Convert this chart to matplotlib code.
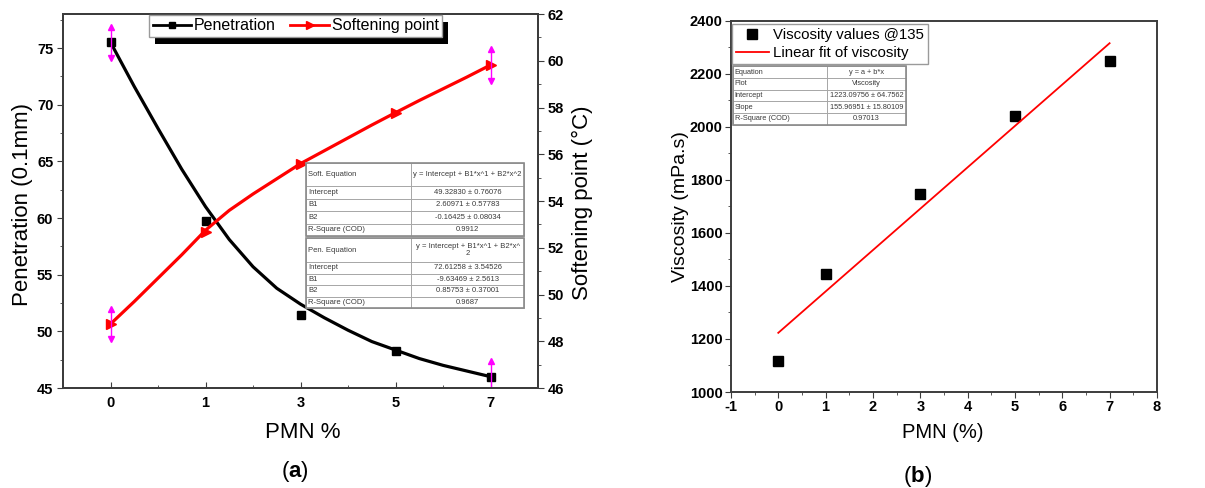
import numpy as np
import matplotlib.pyplot as plt
from matplotlib.lines import Line2D
from matplotlib.patches import Rectangle
from matplotlib.ticker import MultipleLocator

plt.rcParams['font.family'] = ['Liberation Sans', 'DejaVu Sans']
plt.rcParams['axes.unicode_minus'] = False
plt.rcParams['mathtext.fontset'] = 'custom'
plt.rcParams['mathtext.rm'] = 'Liberation Sans'
plt.rcParams['mathtext.bf'] = 'Liberation Sans:bold'

# ---- (a) penetration and softening point vs PMN content ----
pmn_labels = ["0", "1", "3", "5", "7"]
penetration = [75.5, 59.7, 51.45, 48.3, 46.0]
softening = [48.74, 52.67, 55.6, 57.76, 59.82]

# error bars only shown on first and last points
err_idx = [0, 4]
pen_err = [1.35, 1.35]
soft_err = [0.65, 0.68]

# fitted curves at quarter steps along the category axis
fit_pos = [0, 0.25, 0.5, 0.75, 1, 1.25, 1.5, 1.75, 2,
           2.25, 2.5, 2.75, 3, 3.25, 3.5, 3.75, 4]
pen_fit = [75.5, 71.6, 67.9, 64.3, 61.0, 58.1, 55.7, 53.8, 52.4,
           51.2, 50.1, 49.1, 48.35, 47.6, 47.0, 46.5, 46.0]
soft_fit = [48.74, 49.7, 50.7, 51.7, 52.75, 53.6, 54.3, 54.95, 55.6,
            56.15, 56.7, 57.25, 57.78, 58.3, 58.8, 59.3, 59.82]

soft_table = [["Soft. Equation", "y = Intercept + B1*x^1 + B2*x^2"],
              ["Intercept", "49.32830 ± 0.76076"],
              ["B1", "2.60971 ± 0.57783"],
              ["B2", "-0.16425 ± 0.08034"],
              ["R-Square (COD)", "0.9912"]]
pen_table = [["Pen. Equation", "y = Intercept + B1*x^1 + B2*x^\n2"],
             ["Intercept", "72.61258 ± 3.54526"],
             ["B1", "-9.63469 ± 2.5613"],
             ["B2", "0.85753 ± 0.37001"],
             ["R-Square (COD)", "0.9687"]]

# ---- (b) viscosity at 135 C ----
visc_pmn = [0, 1, 3, 5, 7]
viscosity = [1118, 1445, 1748, 2042, 2246]
visc_intercept = 1223.09756
visc_slope = 155.96951
visc_table = [["Equation", "y = a + b*x"],
              ["Plot", "Viscosity"],
              ["Intercept", "1223.09756 ± 64.7562"],
              ["Slope", "155.96951 ± 15.80109"],
              ["R-Square (COD)", "0.97013"]]

FRAME = '#3c3c3c'


def add_table(ax, rows, bbox, split, head, fs):
    tab = ax.table(cellText=rows, bbox=bbox, cellLoc='center',
                   colWidths=[split, 1 - split], zorder=6)
    tab.auto_set_font_size(False)
    tab.set_fontsize(fs)
    for (r, c), cell in tab.get_celld().items():
        cell.set_edgecolor('#a0a0a0')
        cell.set_linewidth(0.6)
        cell.set_height(head if r == 0 else 1.0)
        cell.get_text().set_color('#3a3a3a')
        cell.get_text().set_linespacing(0.9)
        if c == 0:
            cell.get_text().set_horizontalalignment('left')
            cell.PAD = 0.02
    ax.add_patch(Rectangle((bbox[0], bbox[1]), bbox[2], bbox[3],
                           transform=ax.transAxes, fill=False,
                           edgecolor='#8a8a8a', lw=1.2, zorder=7, clip_on=False))
    return tab


def style_frame(ax):
    for sp in ax.spines.values():
        sp.set_color(FRAME)
        sp.set_linewidth(1.4)


fig = plt.figure(figsize=(12.05, 4.88), dpi=100)

# ----- panel (a) -----
ax = fig.add_axes([0.0523, 0.2049, 0.3942, 0.7664])
ax2 = ax.twinx()
x = np.arange(len(pmn_labels))

ax.plot(fit_pos, pen_fit, color='black', lw=2.3, solid_capstyle='round')
ax.plot(x, penetration, 's', color='black', ms=6, ls='none')
ax2.plot(fit_pos, soft_fit, color='red', lw=2.3, solid_capstyle='round')
ax2.plot(x, softening, '>', color='red', ms=7, ls='none')

for a, vals, errs in [(ax, penetration, pen_err), (ax2, softening, soft_err)]:
    xs = [x[i] for i in err_idx]
    ys = np.array([vals[i] for i in err_idx])
    e = np.array(errs)
    a.errorbar(xs, ys, yerr=e, fmt='none', ecolor='magenta', elinewidth=1.0, zorder=4)
    a.plot(xs, ys + e, '^', color='magenta', ms=4.5, zorder=4)
    a.plot(xs, ys - e, 'v', color='magenta', ms=4.5, zorder=4)

ax.set_xlim(-0.5, 4.5)
ax.set_ylim(45, 78)
ax2.set_ylim(46, 62)
ax.set_xticks(x)
ax.set_xticklabels(pmn_labels)
ax.xaxis.set_minor_locator(MultipleLocator(0.5))
ax.yaxis.set_major_locator(MultipleLocator(5))
ax.yaxis.set_minor_locator(MultipleLocator(2.5))
ax2.yaxis.set_major_locator(MultipleLocator(2))
ax2.yaxis.set_minor_locator(MultipleLocator(1))

ax.tick_params(axis='x', which='both', direction='in', top=False, color=FRAME)
ax.tick_params(axis='x', which='major', length=4, pad=6)
ax.tick_params(axis='x', which='minor', length=2.5)
ax.tick_params(axis='y', which='major', direction='out', length=4, pad=3, color=FRAME)
ax.tick_params(axis='y', which='minor', direction='out', length=2.5, color=FRAME)
ax2.tick_params(axis='y', which='major', direction='out', length=4, pad=3, color=FRAME)
ax2.tick_params(axis='y', which='minor', direction='out', length=2.5, color=FRAME)
for lab in ax.get_xticklabels() + ax.get_yticklabels() + ax2.get_yticklabels():
    lab.set_fontweight('bold')
    lab.set_fontsize(10.5)
style_frame(ax)
style_frame(ax2)

ax.set_xlabel("PMN %", fontsize=16, va='center')
ax.xaxis.set_label_coords(0.505, -0.12)
ax.set_ylabel("Penetration (0.1mm)", fontsize=16, va='center')
ax.yaxis.set_label_coords(-0.086, 0.49)
ax2.set_ylabel("Softening point (°C)", fontsize=16, va='center', rotation=90)
ax2.yaxis.set_label_coords(1.093, 0.495)

add_table(ax2, soft_table, [0.512, 0.406, 0.459, 0.196], 0.48, 1.85, 5.5)
add_table(ax2, pen_table, [0.512, 0.214, 0.459, 0.187], 0.48, 2.1, 5.5)

handles = [Line2D([], [], color='black', lw=2, marker='s', ms=5),
           Line2D([], [], color='red', lw=2, marker='>', ms=6)]
leg = ax2.legend(handles, ["Penetration", "Softening point"], ncol=2,
                 loc='upper left', bbox_to_anchor=(0.182, 0.997),
                 fontsize=11.5, handlelength=2.4, handletextpad=0.2,
                 columnspacing=0.9, borderpad=0.2, borderaxespad=0,
                 fancybox=False, framealpha=1, edgecolor='#9a9a9a')
leg.get_frame().set_linewidth(1.0)
leg.set_zorder(8)

fig.text(0.245, 0.034, r"($\mathbf{a}$)", fontsize=16, ha='center', va='center')

# ----- panel (b) -----
bx = fig.add_axes([0.6066, 0.1967, 0.3535, 0.761])
bx.plot(visc_pmn, viscosity, 's', color='black', ms=6.5, ls='none',
        label="Viscosity values @135")
fit_x = np.array([visc_pmn[0], visc_pmn[-1]])
bx.plot(fit_x, visc_intercept + visc_slope * fit_x, color='red', lw=1.3,
        label="Linear fit of viscosity")
bx.set_xlim(-1, 8)
bx.set_ylim(1000, 2400)
bx.xaxis.set_major_locator(MultipleLocator(1))
bx.xaxis.set_minor_locator(MultipleLocator(0.5))
bx.yaxis.set_major_locator(MultipleLocator(200))
bx.yaxis.set_minor_locator(MultipleLocator(100))
bx.tick_params(which='both', direction='out', top=False, right=False, color=FRAME)
bx.tick_params(which='major', length=4, pad=2)
bx.tick_params(which='minor', length=2.5)
for lab in bx.get_xticklabels() + bx.get_yticklabels():
    lab.set_fontweight('bold')
    lab.set_fontsize(10.5)
style_frame(bx)
bx.set_xlabel("PMN (%)", fontsize=14.5, va='center')
bx.xaxis.set_label_coords(0.498, -0.11)
bx.set_ylabel("Viscosity (mPa.s)", fontsize=14, va='center')
bx.yaxis.set_label_coords(-0.118, 0.50)

bleg = bx.legend(loc='upper left', bbox_to_anchor=(0.002, 0.99), fontsize=10.8,
                 handlelength=2.2, handletextpad=0.3, borderpad=0.25,
                 labelspacing=0.25, borderaxespad=0, fancybox=False,
                 framealpha=1, edgecolor='#9a9a9a')
bleg.get_frame().set_linewidth(1.0)
add_table(bx, visc_table, [0.004, 0.72, 0.408, 0.157], 0.54, 1.0, 5.3)

fig.text(0.761, 0.024, r"($\mathbf{b}$)", fontsize=16, ha='center', va='center')

# heavy drop shadow behind legend of panel (a)
fig.canvas.draw()
bb = leg.get_frame().get_window_extent()
shadow = Rectangle((bb.x0 + 6, bb.y0 - 7), bb.width, bb.height,
                   transform=None, facecolor='black', edgecolor='none', zorder=7.5)
ax2.add_artist(shadow)

fig.savefig("out.png", dpi=100)
